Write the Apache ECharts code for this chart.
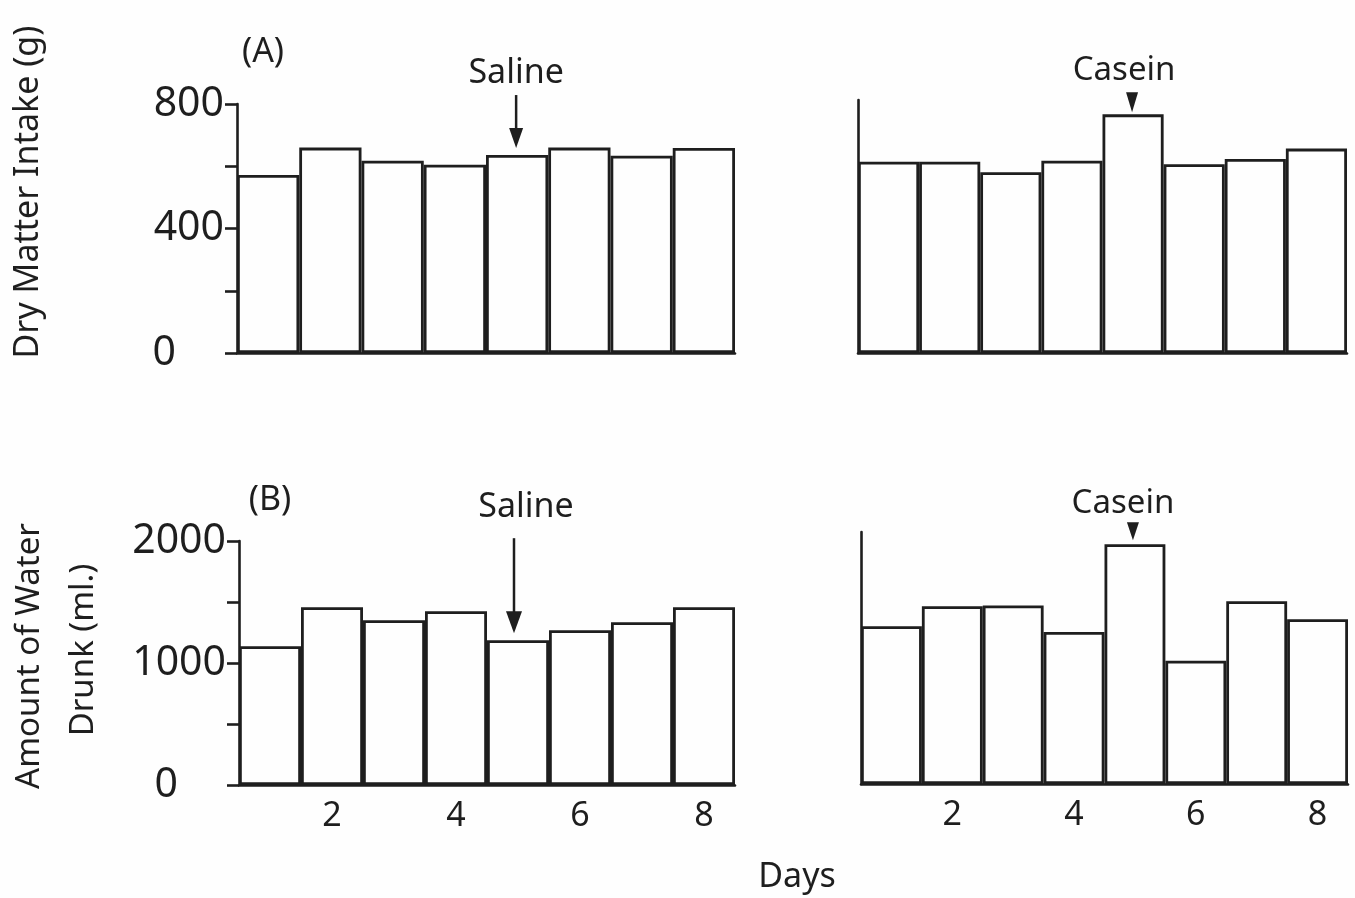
<!DOCTYPE html>
<html>
<head>
<meta charset="utf-8">
<script src="https://cdn.jsdelivr.net/npm/echarts@6/dist/echarts.min.js"></script>
<style>
  html, body { margin: 0; padding: 0; background: #fefefe; }
  #chart { width: 1355px; height: 898px; }
</style>
</head>
<body>
<div id="chart"></div>
<script>
// Days of the trial and the daily totals for each animal
const days = ['1', '2', '3', '4', '5', '6', '7', '8'];
const shownDays = ['2', '4', '6', '8'];
const dryMatterSaline = [572, 660, 618, 605, 636, 660, 634, 659];
const dryMatterCasein = [614, 614, 580, 617, 766, 606, 623, 656];
const waterSaline = [1138, 1457, 1351, 1425, 1187, 1269, 1335, 1457];
const waterCasein = [1293, 1457, 1463, 1247, 1965, 1010, 1498, 1351];
const dryMatterTicks = ['0', '400', '800'];
const waterTicks = ['0', '1000', '2000'];
const treatedDayIndex = 4; // day 5: infusion given

const INK = '#1e1e1e';
const FONT = '"Noto Sans", "DejaVu Sans", sans-serif';

const chart = echarts.init(document.getElementById('chart'), null, { renderer: 'canvas' });

function tickFormatter(list) {
  return function (v) {
    const s = String(v);
    if (!list.includes(s)) return '';
    return s === '0' ? '{zero|0}' : s;
  };
}

function valueAxis(gridIndex, max, interval, ticks) {
  const withTicks = !!ticks;
  return {
    type: 'value', gridIndex: gridIndex, min: 0, max: max,
    interval: interval,
    splitLine: { show: false },
    axisLine: { show: true, lineStyle: { color: INK, width: 2.6 } },
    axisTick: { show: withTicks, length: 12, lineStyle: { color: INK, width: 2.6 } },
    axisLabel: withTicks ? {
      show: true, margin: 13, color: INK, fontFamily: FONT, fontSize: 41,
      formatter: tickFormatter(ticks),
      rich: { zero: { fontFamily: FONT, fontSize: 41, color: INK, padding: [0, 48, 0, 0] } }
    } : { show: false }
  };
}

function categoryAxis(gridIndex, labelled) {
  return {
    type: 'category', gridIndex: gridIndex, data: days, boundaryGap: true,
    axisLine: { show: true, lineStyle: { color: INK, width: 2.6 } },
    axisTick: { show: false },
    axisLabel: labelled ? {
      show: true, margin: 14, color: INK, fontFamily: FONT, fontSize: 34,
      interval: 0,
      formatter: function (v) { return shownDays.includes(v) ? v : ''; }
    } : { show: false }
  };
}

function barSeries(index, data) {
  return {
    type: 'bar', xAxisIndex: index, yAxisIndex: index, data: data,
    barCategoryGap: '0%', silent: true,
    itemStyle: { color: 'rgba(255,255,255,0)', borderColor: INK, borderWidth: 2.8 }
  };
}

chart.setOption({
  backgroundColor: '#fefefe',
  animation: false,
  grid: [
    { left: 237, top: 104, width: 498, height: 249, outerBoundsMode: 'none' },
    { left: 858, top: 100, width: 489, height: 253, outerBoundsMode: 'none' },
    { left: 239, top: 541, width: 496, height: 244, outerBoundsMode: 'none' },
    { left: 861, top: 532, width: 487, height: 252, outerBoundsMode: 'none' }
  ],
  xAxis: [categoryAxis(0, false), categoryAxis(1, false), categoryAxis(2, true), categoryAxis(3, true)],
  yAxis: [
    valueAxis(0, 800, 200, dryMatterTicks),
    valueAxis(1, 812, null, null),
    valueAxis(2, 2000, 500, waterTicks),
    valueAxis(3, 2066, null, null)
  ],
  series: [
    barSeries(0, dryMatterSaline),
    barSeries(1, dryMatterCasein),
    barSeries(2, waterSaline),
    barSeries(3, waterCasein)
  ]
});

// Annotations placed from the plotted bar tops
function barTop(seriesIndex, data) {
  return chart.convertToPixel({ seriesIndex: seriesIndex }, [treatedDayIndex, data[treatedDayIndex]]);
}

function label(text, x, y, size, rotation) {
  return {
    type: 'text', x: x, y: y, rotation: rotation || 0, silent: true,
    style: { text: text, font: size + 'px ' + FONT, fill: INK,
      align: 'center', verticalAlign: 'middle', textAlign: 'center', textVerticalAlign: 'middle' }
  };
}

function arrow(x, yStart, yTip, headW, headH) {
  return [
    { type: 'line', silent: true, shape: { x1: x, y1: yStart, x2: x, y2: yTip - headH + 2 },
      style: { stroke: INK, lineWidth: 2.5 } },
    { type: 'polygon', silent: true,
      shape: { points: [[x - headW / 2, yTip - headH], [x + headW / 2, yTip - headH], [x, yTip]] },
      style: { fill: INK } }
  ];
}

function triangle(x, yTip, w, h) {
  return { type: 'polygon', silent: true,
    shape: { points: [[x - w / 2, yTip - h], [x + w / 2, yTip - h], [x, yTip]] },
    style: { fill: INK } };
}

const a = barTop(0, dryMatterSaline);
const b = barTop(1, dryMatterCasein);
const c = barTop(2, waterSaline);
const d = barTop(3, waterCasein);

const graphics = [
  label('(A)', 263, 52, 34),
  label('(B)', 270, 500, 34),
  label('Days', 797, 877, 34),
  label('Dry Matter Intake (g)', 28, 192, 34, Math.PI / 2),
  label('Amount of Water', 30, 656, 33, Math.PI / 2),
  label('Drunk (ml.)', 84, 650, 33, Math.PI / 2),

  label('Saline', a[0] - 1, a[1] - 82, 34),
  ...arrow(a[0] - 1, a[1] - 60, a[1] - 7, 14, 20),

  label('Casein', b[0] - 9, b[1] - 44, 33),
  triangle(b[0] - 1, b[1] - 2, 12, 20),

  label('Saline', c[0] + 8, c[1] - 133, 34),
  ...arrow(c[0] - 4, c[1] - 102, c[1] - 7, 16, 22),

  label('Casein', d[0] - 12, d[1] - 41, 33),
  triangle(d[0] - 2, d[1] - 4, 12, 18)
];

chart.setOption({ graphic: graphics });
</script>
</body>
</html>
